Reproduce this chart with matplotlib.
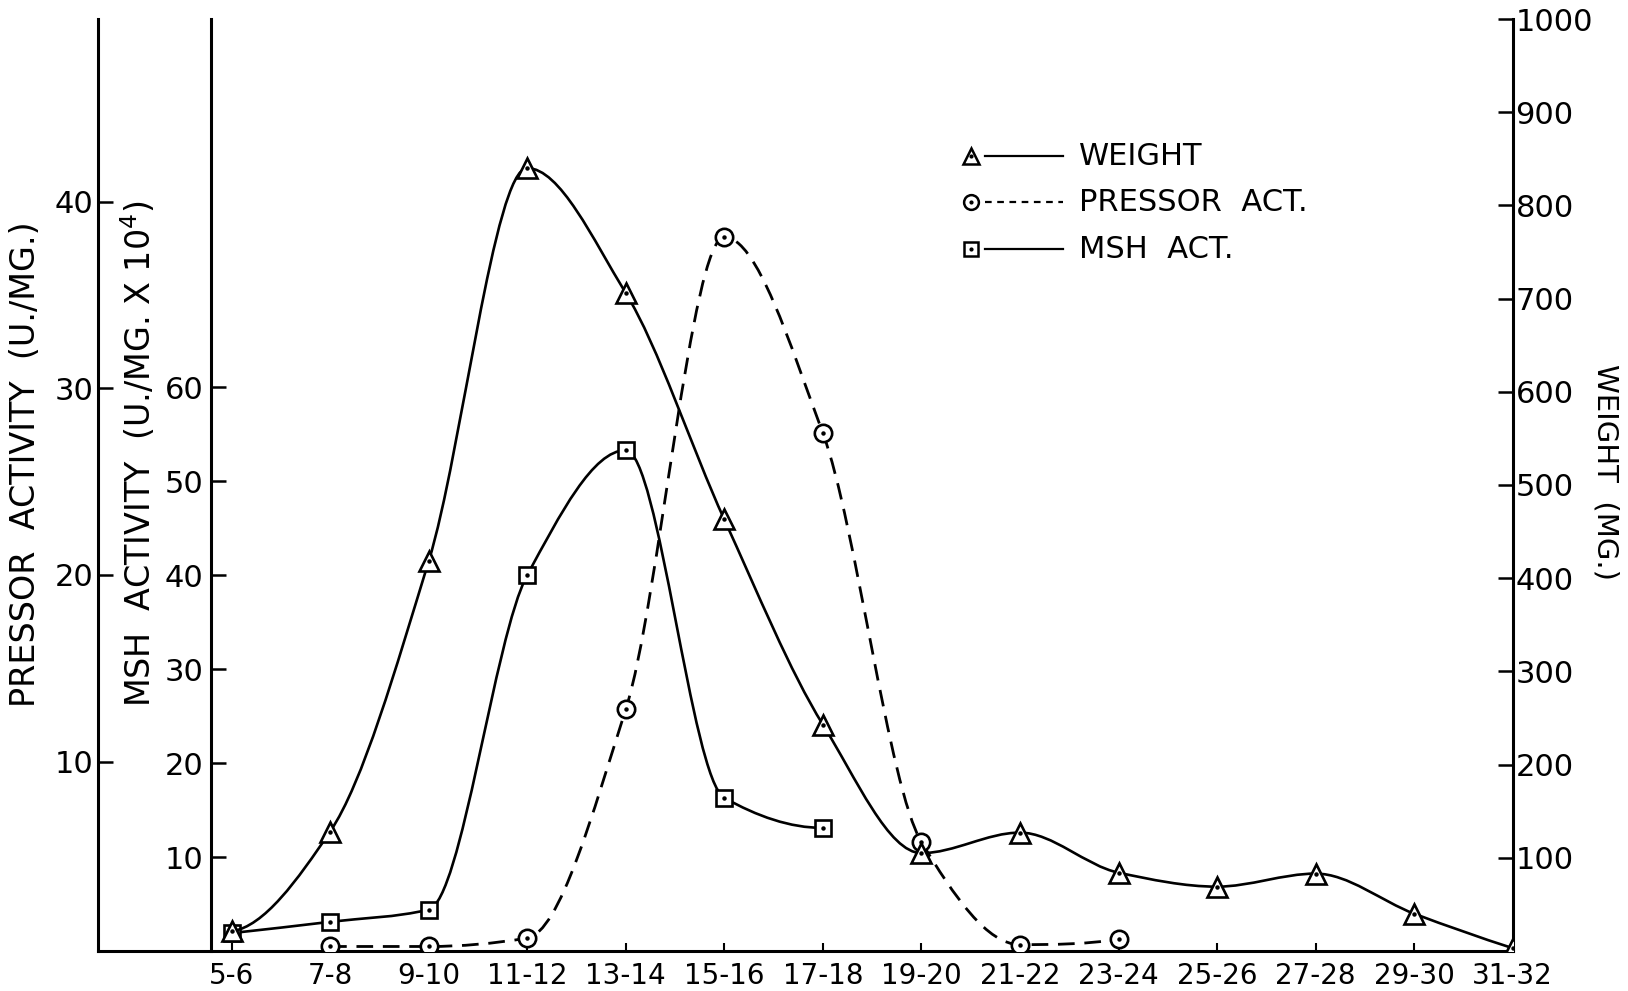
import numpy as np
import matplotlib.pyplot as plt
from matplotlib.path import Path
from matplotlib.patches import PathPatch

plt.rcParams['font.family'] = ['DejaVu Sans']
plt.rcParams['mathtext.fontset'] = 'dejavusans'

# Dados
categorias = ['5-6', '7-8', '9-10', '11-12', '13-14', '15-16', '17-18',
              '19-20', '21-22', '23-24', '25-26', '27-28', '29-30', '31-32']
peso = [21, 128, 418, 840, 706, 463, 243, 105, 127, 84, 69, 83, 40, 3]
pressor_cats = ['7-8', '9-10', '11-12', '13-14', '15-16', '17-18',
                '19-20', '21-22', '23-24']
pressor = [0.1, 0.1, 0.55, 12.8, 38.1, 27.6, 5.7, 0.2, 0.5]
msh_cats = ['5-6', '7-8', '9-10', '11-12', '13-14', '15-16', '17-18']
msh = [1.9, 3.1, 4.4, 40, 53.3, 16.3, 13.1]

TRACEJADO = (0, (6, 3.5))


def tangentes(y):
    # tangentes monotonas (estilo curva francesa desenhada a mao)
    y = np.asarray(y, dtype=float)
    d = np.diff(y)
    m = np.zeros(len(y))
    for i in range(1, len(y) - 1):
        if d[i - 1] * d[i] > 0:
            m[i] = 2 / (1 / d[i - 1] + 1 / d[i])
    for i, (a, b) in ((0, (d[0], d[1])), (len(y) - 1, (d[-1], d[-2]))):
        t = (3 * a - b) / 2
        if np.sign(t) != np.sign(a):
            t = 0
        elif np.sign(a) != np.sign(b) and abs(t) > 3 * abs(a):
            t = 3 * a
        m[i] = t
    return m


def curva(ax, x, y, **kw):
    m = tangentes(y)
    verts = [(x[0], y[0])]
    codes = [Path.MOVETO]
    for i in range(len(x) - 1):
        h = (x[i + 1] - x[i]) / 3
        verts += [(x[i] + h, y[i] + m[i] * h),
                  (x[i + 1] - h, y[i + 1] - m[i + 1] * h),
                  (x[i + 1], y[i + 1])]
        codes += [Path.CURVE4] * 3
    ax.add_patch(PathPatch(Path(verts, codes), fill=False, edgecolor='black', **kw))


def marcadores(ax, x, y, marker, ms):
    ax.plot(x, y, ls='none', marker=marker, ms=ms, mfc='white', mec='black',
            mew=1.9, zorder=4)
    ax.plot(x, y, ls='none', marker='o', ms=2.2, color='black', zorder=5)


fig = plt.figure(figsize=(16.28, 9.91), dpi=100)
ax = fig.add_axes([0.06, 0.0404, 0.8692, 0.9404])
ax_msh = ax.twinx()
ax_w = ax.twinx()

xc = np.arange(len(categorias))
idx = {c: i for i, c in enumerate(categorias)}
xp = np.array([idx[c] for c in pressor_cats])
xm = np.array([idx[c] for c in msh_cats])

ax.set_xlim(-1.358, 13.0)
ax.set_ylim(-0.14, 49.78)
ax_msh.set_ylim(0, 99.2)
ax_w.set_ylim(0, 1000)

# curvas
curva(ax, xp, pressor, lw=2.0, linestyle=TRACEJADO)
marcadores(ax, xp, pressor, 'o', 12.5)
curva(ax_msh, xm, msh, lw=1.9)
marcadores(ax_msh, xm, msh, 's', 12)
curva(ax_w, xc, peso, lw=1.9)
marcadores(ax_w, xc, peso, '^', 14.5)

# eixos
for a in (ax, ax_msh, ax_w):
    for s in a.spines.values():
        s.set_visible(False)
        s.set_linewidth(2.2)

ax.spines['left'].set_visible(True)
ax.spines['bottom'].set_visible(True)
ax.set_yticks([10, 20, 30, 40])
ax.tick_params(axis='y', direction='in', length=11, width=1.8, pad=3, labelsize=22)
ax.set_xticks(xc)
ax.set_xticklabels(categorias)
ax.tick_params(axis='x', direction='in', length=6, width=1.5, pad=8, labelsize=20)

ax_msh.spines['left'].set_visible(True)
ax_msh.spines['left'].set_position(('axes', 0.0799))
ax_msh.yaxis.tick_left()
ax_msh.set_yticks([10, 20, 30, 40, 50, 60])
ax_msh.tick_params(axis='y', direction='in', length=11, width=1.8, pad=5, labelsize=22)

ax_w.spines['right'].set_visible(True)
ax_w.set_yticks(range(100, 1001, 100))
ax_w.tick_params(axis='y', direction='in', length=11, width=1.8, pad=2, labelsize=22)

# rotulos dos eixos
fig.text(26 / 1628, 1 - 464 / 991, 'PRESSOR  ACTIVITY  (U./MG.)', fontsize=24,
         rotation=90, ha='center', va='center')
fig.text(139 / 1628, 1 - 454 / 991, 'MSH  ACTIVITY  (U./MG. X 10$^{4}$)', fontsize=24,
         rotation=90, ha='center', va='center')
fig.text(1606 / 1628, 1 - 472 / 991, 'WEIGHT  (MG.)', fontsize=21,
         rotation=270, ha='center', va='center')

# legenda desenhada a mao
itens = [('^', 14, '-', 'WEIGHT'),
         ('o', 12.5, (0, (3, 2.5)), 'PRESSOR  ACT.'),
         ('s', 12, '-', 'MSH  ACT.')]
for k, (mk, ms, ls, rotulo) in enumerate(itens):
    yy = [0.853, 0.8036, 0.7532][k]
    ax_w.plot([0.627, 0.682], [yy, yy], ls=ls, lw=1.6, color='black',
              transform=ax_w.transAxes, clip_on=False)
    ax_w.plot([0.617], [yy], marker=mk, ms=ms * 0.85, mfc='white', mec='black',
              mew=1.8, transform=ax_w.transAxes, clip_on=False)
    ax_w.plot([0.617], [yy], marker='o', ms=2, color='black',
              transform=ax_w.transAxes, clip_on=False)
    ax_w.text(0.6937, yy, rotulo, fontsize=22, va='center', ha='left',
              transform=ax_w.transAxes)

fig.savefig('out.png', dpi=100, facecolor='white')
